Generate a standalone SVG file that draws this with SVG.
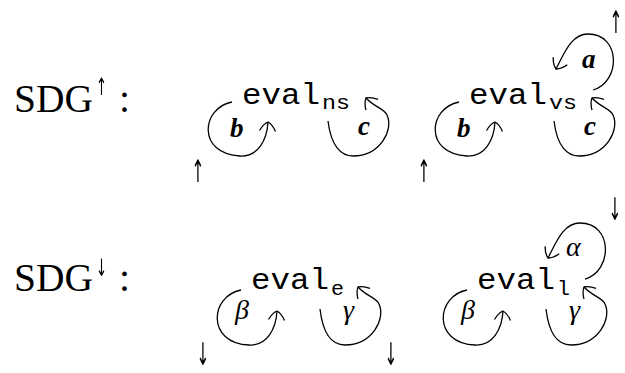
<svg xmlns="http://www.w3.org/2000/svg" width="625" height="373" viewBox="0 0 625 373">
<style>
.title{font-family:"Liberation Serif",serif;font-size:39.5px;fill:#000}
.sup{font-family:"DejaVu Sans",sans-serif;font-size:24px;fill:#000;text-anchor:middle}
.arr{font-family:"DejaVu Sans",sans-serif;font-size:31px;fill:#000;text-anchor:middle}
.tt{font-family:"Liberation Mono",monospace;font-size:29px;fill:#000}
.sub{font-family:"Liberation Mono",monospace;font-size:20px;fill:#000}
.lbl{font-family:"Liberation Serif",serif;font-size:27px;font-style:italic;font-weight:bold;fill:#000}
.glbl{font-family:"Liberation Serif",serif;font-size:28px;font-style:italic;fill:#000}
.loop{fill:none;stroke:#000;stroke-width:1.3;marker-end:url(#ah)}
.gray{filter:url(#gs)}
</style>
<defs>
<filter id="gs" x="0" y="0" width="1" height="1">
<feOffset dx="0" dy="0"/>
</filter>
<marker id="ah" markerUnits="userSpaceOnUse" markerWidth="24" markerHeight="24" viewBox="-12 -12 24 24" refX="0" refY="0" orient="auto" overflow="visible">
<path d="M -9,-8 C -5,-6 -1,-2 0,0 C -1,2 -5,6 -9,8" fill="none" stroke="#000" stroke-width="1.3"/>
</marker>
</defs>

<g id="sdg-up">
<text class="title" x="14" y="112">SDG</text>
<g class="gray"><text class="sup" x="101.5" y="95" textLength="11" lengthAdjust="spacingAndGlyphs">↑</text></g>
<text class="title" x="119" y="112">:</text>
</g>
<g id="sdg-down">
<text class="title" x="14" y="291">SDG</text>
<g class="gray"><text class="sup" x="101.5" y="276" textLength="11" lengthAdjust="spacingAndGlyphs">↓</text></g>
<text class="title" x="119" y="291">:</text>
</g>

<g id="eval_ns">
<text class="tt" x="242" y="104" textLength="78" lengthAdjust="spacingAndGlyphs">eval</text>
<text class="sub" x="322" y="109" textLength="28" lengthAdjust="spacingAndGlyphs">ns</text>
</g>
<g id="eval_vs">
<text class="tt" x="469" y="104" textLength="78" lengthAdjust="spacingAndGlyphs">eval</text>
<text class="sub" x="549" y="109" textLength="28" lengthAdjust="spacingAndGlyphs">vs</text>
</g>
<g id="eval_e">
<text class="tt" x="251" y="289" textLength="78" lengthAdjust="spacingAndGlyphs">eval</text>
<text class="sub" x="331" y="295" textLength="13" lengthAdjust="spacingAndGlyphs">e</text>
</g>
<g id="eval_l">
<text class="tt" x="477" y="289" textLength="78" lengthAdjust="spacingAndGlyphs">eval</text>
<text class="sub" x="557" y="295" textLength="13" lengthAdjust="spacingAndGlyphs">l</text>
</g>

<g id="connectors">
<path class="loop" d="M 232,102 C 201,108 197,154 240,156 C 258,157 267,140 268,122"/>
<path class="loop" d="M 328,121 C 331,146 341,156 353,156 C 380,156 394,130 387,115 C 385,109 374,107 366,98"/>
<path class="loop" d="M 459,102 C 428,108 424,154 467,156 C 485,157 494,140 495,122"/>
<path class="loop" d="M 554,121 C 557,146 567,156 579,156 C 606,156 620,130 613,115 C 611,109 600,107 592,98"/>
<path class="loop" d="M 593,90 C 621,82 621,34 588,34 C 571,34 564,54 556,69"/>
<path class="loop" d="M 241,290 C 210,296 206,343 249,345 C 267,346 276,329 277,311"/>
<path class="loop" d="M 320,309 C 323,335 333,345 345,345 C 372,345 386,319 379,304 C 377,298 366,296 358,287"/>
<path class="loop" d="M 467,290 C 436,296 432,343 475,345 C 493,346 502,329 503,311"/>
<path class="loop" d="M 546,309 C 549,335 559,345 571,345 C 598,345 612,319 605,304 C 603,298 592,296 584,287"/>
<path class="loop" d="M 585,279 C 613,271 613,223 580,223 C 563,223 556,243 548,258"/>
</g>

<g id="labels">
<text class="lbl" x="230" y="137">b</text>
<text class="lbl" x="358" y="135">c</text>
<text class="lbl" x="457" y="137">b</text>
<text class="lbl" x="584" y="135">c</text>
<text class="lbl" x="582" y="68">a</text>
<text class="glbl" x="235" y="319">β</text>
<text class="glbl" x="343" y="319">γ</text>
<text class="glbl" x="461" y="319">β</text>
<text class="glbl" x="569" y="319">γ</text>
<text class="glbl" x="566" y="256">α</text>
</g>

<g id="marks" class="gray">
<text class="arr" x="198" y="182" textLength="13" lengthAdjust="spacingAndGlyphs">↑</text>
<text class="arr" x="424" y="182" textLength="13" lengthAdjust="spacingAndGlyphs">↑</text>
<text class="arr" x="616" y="33" textLength="13" lengthAdjust="spacingAndGlyphs">↑</text>
<text class="arr" x="203" y="365" textLength="13" lengthAdjust="spacingAndGlyphs">↓</text>
<text class="arr" x="391" y="365" textLength="13" lengthAdjust="spacingAndGlyphs">↓</text>
<text class="arr" x="615" y="220" textLength="13" lengthAdjust="spacingAndGlyphs">↓</text>
</g>
</svg>
